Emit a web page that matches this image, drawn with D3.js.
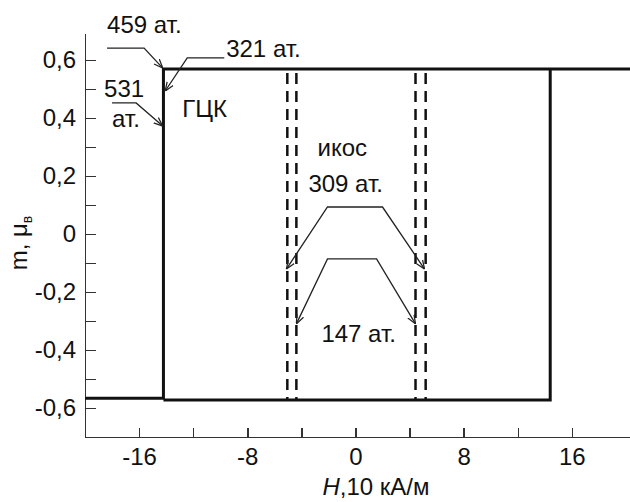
<!DOCTYPE html>
<html>
<head>
<meta charset="utf-8">
<title>m(H)</title>
<style>
body { margin: 0; background: #fff; }
svg { display: block; font-family: "Liberation Sans", Arial, sans-serif; }
.axis path, .axis line { stroke: #333; stroke-width: 1.5px; shape-rendering: crispEdges; }
.axis text { font-size: 24px; fill: #111; }
.loop { fill: none; stroke: #111; stroke-width: 3px; }
.switch { stroke: #111; stroke-width: 2.5px; stroke-dasharray: 11,7; }
.note { fill: none; stroke: #222; stroke-width: 1.3px; }
.lbl { font-size: 24px; fill: #111; }
</style>
</head>
<body>
<script src="https://cdn.jsdelivr.net/npm/d3@7"></script>
<script>
// ticks
var xMajorTicks = [-16, -8, 0, 8, 16];
var xMinorTicks = [-12, -4, 4, 12];
var yMajorTicks = [-0.6, -0.4, -0.2, 0, 0.2, 0.4, 0.6];
var yMinorTicks = [-0.5, -0.3, -0.1, 0.1, 0.3, 0.5];

// hysteresis loop (H in 10 kA/m, m in mu_B)
var upperBranch = [[-20, -0.566], [-14.2, -0.566], [-14.2, 0.569], [20.3, 0.569]];
var lowerBranch = [[-14.2, -0.572], [14.4, -0.572], [14.4, 0.569]];
// switching fields of icosahedral clusters (dashed)
var icosFields = [-5.04, -4.37, 4.44, 5.19];

// annotations: arrow polylines in data units, arrowhead at the ends
var arrowsFcc = [
    [[-18.37, 0.641], [-15.63, 0.641], [-14.25, 0.572]],
    [[-9.70, 0.607], [-12.44, 0.607], [-14.07, 0.493]],
    [[-18.0, 0.452], [-16.22, 0.452], [-14.25, 0.372]]
];
var arrowsIcos = [
    [[-5.11, -0.121], [-2.07, 0.093], [2.0, 0.093], [5.11, -0.121]],
    [[-4.37, -0.31], [-2.07, -0.086], [1.56, -0.086], [4.44, -0.31]]
];
var labels = [
    {t: "459 ат.", x: -18.37, y: 0.693},
    {t: "321 ат.", x: -9.56, y: 0.610},
    {t: "531", x: -18.59, y: 0.472},
    {t: "ат.", x: -18.0, y: 0.369},
    {t: "ГЦК", x: -12.81, y: 0.403},
    {t: "икос", x: -2.81, y: 0.269},
    {t: "309 ат.", x: -3.48, y: 0.145},
    {t: "147 ат.", x: -2.52, y: -0.372}
];

var W = 630, H = 502;
var svg = d3.select("body").append("svg").attr("width", W).attr("height", H);

var x = d3.scaleLinear().domain([-20, 20.3]).range([85, 630]);
var y = d3.scaleLinear().domain([-0.7, 0.693]).range([437, 33]);

function fmt(d) {
    if (d === 0) return "0";
    return (d < 0 ? "-" : "") + Math.abs(d).toFixed(1).replace(".", ",");
}

// minor ticks first, then major with labels
svg.append("g").attr("class", "axis")
    .attr("transform", "translate(0," + y(-0.7) + ")")
    .call(d3.axisBottom(x).tickValues(xMinorTicks).tickSizeInner(-9).tickSizeOuter(0).tickFormat(""));
svg.append("g").attr("class", "axis")
    .attr("transform", "translate(0," + y(-0.7) + ")")
    .call(d3.axisBottom(x).tickValues(xMajorTicks).tickSizeInner(-9).tickSizeOuter(0).tickPadding(11)
        .tickFormat(function(d) { return d < 0 ? "-" + Math.abs(d) : "" + d; }));

svg.append("g").attr("class", "axis")
    .attr("transform", "translate(" + x(-20) + ",0)")
    .call(d3.axisLeft(y).tickValues(yMinorTicks).tickSizeInner(-11).tickSizeOuter(0).tickFormat(""));
svg.append("g").attr("class", "axis")
    .attr("transform", "translate(" + x(-20) + ",0)")
    .call(d3.axisLeft(y).tickValues(yMajorTicks).tickSizeInner(-11).tickSizeOuter(0).tickPadding(9).tickFormat(fmt));

svg.selectAll(".axis .domain").style("stroke-width", "1.8px");

// axis titles
var xt = svg.append("text").attr("class", "lbl")
    .attr("x", 376).attr("y", 495).attr("text-anchor", "middle");
xt.append("tspan").style("font-style", "italic").text("H");
xt.append("tspan").text(",10 кА/м");

var yt = svg.append("text").attr("class", "lbl")
    .attr("transform", "translate(27,243) rotate(-90)").attr("text-anchor", "middle");
yt.append("tspan").text("m, μ");
yt.append("tspan").attr("dy", 5).style("font-size", "14px").text("в");

// arrow marker
svg.append("defs").append("marker")
    .attr("id", "arr").attr("viewBox", "0 0 10 10")
    .attr("refX", 10).attr("refY", 5)
    .attr("markerWidth", 9).attr("markerHeight", 9)
    .attr("markerUnits", "userSpaceOnUse")
    .attr("orient", "auto-start-reverse")
    .append("path").attr("d", "M0,1 L10,5 L0,9")
    .attr("fill", "none").attr("stroke", "#222").attr("stroke-width", 1.4);

var line = d3.line().x(function(d) { return x(d[0]); }).y(function(d) { return y(d[1]); });

// dashed switching lines
svg.selectAll(".switch").data(icosFields).enter().append("line")
    .attr("class", "switch")
    .attr("x1", function(d) { return x(d); }).attr("x2", function(d) { return x(d); })
    .attr("y1", y(0.569) + 4).attr("y2", y(-0.572));

svg.append("path").attr("class", "loop").attr("d", line(upperBranch));
svg.append("path").attr("class", "loop").attr("d", line(lowerBranch));

svg.selectAll(".note-fcc").data(arrowsFcc).enter().append("path")
    .attr("class", "note").attr("d", line).attr("marker-end", "url(#arr)");
svg.selectAll(".note-icos").data(arrowsIcos).enter().append("path")
    .attr("class", "note").attr("d", line)
    .attr("marker-start", "url(#arr)").attr("marker-end", "url(#arr)");

svg.selectAll(".ann").data(labels).enter().append("text")
    .attr("class", "lbl")
    .attr("x", function(d) { return x(d.x); })
    .attr("y", function(d) { return y(d.y); })
    .text(function(d) { return d.t; });
</script>
</body>
</html>
